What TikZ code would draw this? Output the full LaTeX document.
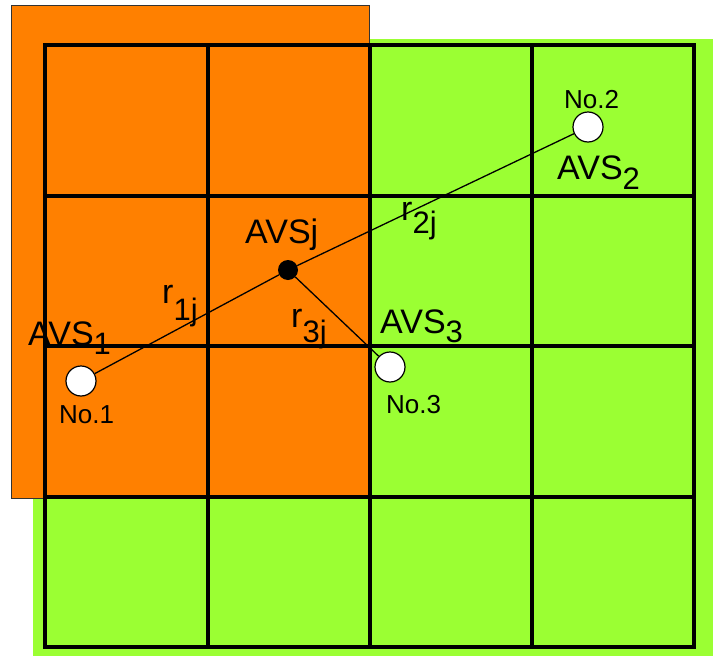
\documentclass[tikz,border=0pt]{standalone}
\usepackage{fontspec}
\setmainfont{Liberation Sans}
\definecolor{myorange}{RGB}{255,128,0}
\definecolor{mygreen}{RGB}{155,255,51}
\newcommand{\mysub}[2]{\raisebox{-#2pt}{\fontsize{31}{31}\selectfont #1}}
\tikzset{
  grid line/.style={line width=4.5pt, line cap=rect},
  big/.style={anchor=base west, inner sep=0pt, font=\fontsize{34}{34}\selectfont},
  small/.style={anchor=base west, inner sep=0pt, font=\fontsize{26}{26}\selectfont},
  station/.style={circle, draw=black, line width=1.2pt, fill=white, minimum size=30pt, inner sep=0pt},
  target/.style={circle, fill=black, minimum size=20pt, inner sep=0pt},
  link/.style={line width=1.3pt}
}
\begin{document}
\begin{tikzpicture}[x=1pt,y=-1pt]
\useasboundingbox (0,0) rectangle (713,656);
% background areas
\fill[mygreen] (33,39) rectangle (713,656);
\fill[myorange, draw=black!80, line width=1pt] (11,5) rectangle (369,498);
% grid
\foreach \x in {45,208,370,532,694} \draw[grid line] (\x,45) -- (\x,647);
\foreach \y in {45,196,346,497,647} \draw[grid line] (45,\y) -- (694,\y);
% nodes
\node[station] (n1) at (81,381) {};
\node[station] (n2) at (588,127) {};
\node[station] (n3) at (390,367) {};
\node[target] (j) at (288,270) {};
\draw[link] (n1) -- (j);
\draw[link] (j) -- (n2);
\draw[link] (j) -- (n3);
% labels
\node[big] (l1) at (28,345) {AVS\mysub{1}{9}};
\node[big] (lj) at (245,243) {AVSj};
\node[big] (l3) at (380,333) {AVS\mysub{3}{9}};
\node[big] (l2) at (557,179) {AVS\mysub{2}{10}};
\node[small] (k1) at (59,423) {No.1};
\node[small] (k2) at (564,108) {No.2};
\node[small] (k3) at (386,413) {No.3};
\node[big] (r1) at (162,303) {r\mysub{1j}{17}};
\node[big] (r2) at (401,220) {r\mysub{2j}{13}};
\node[big] (r3) at (291,327) {r\mysub{3j}{15}};
\end{tikzpicture}
\end{document}
